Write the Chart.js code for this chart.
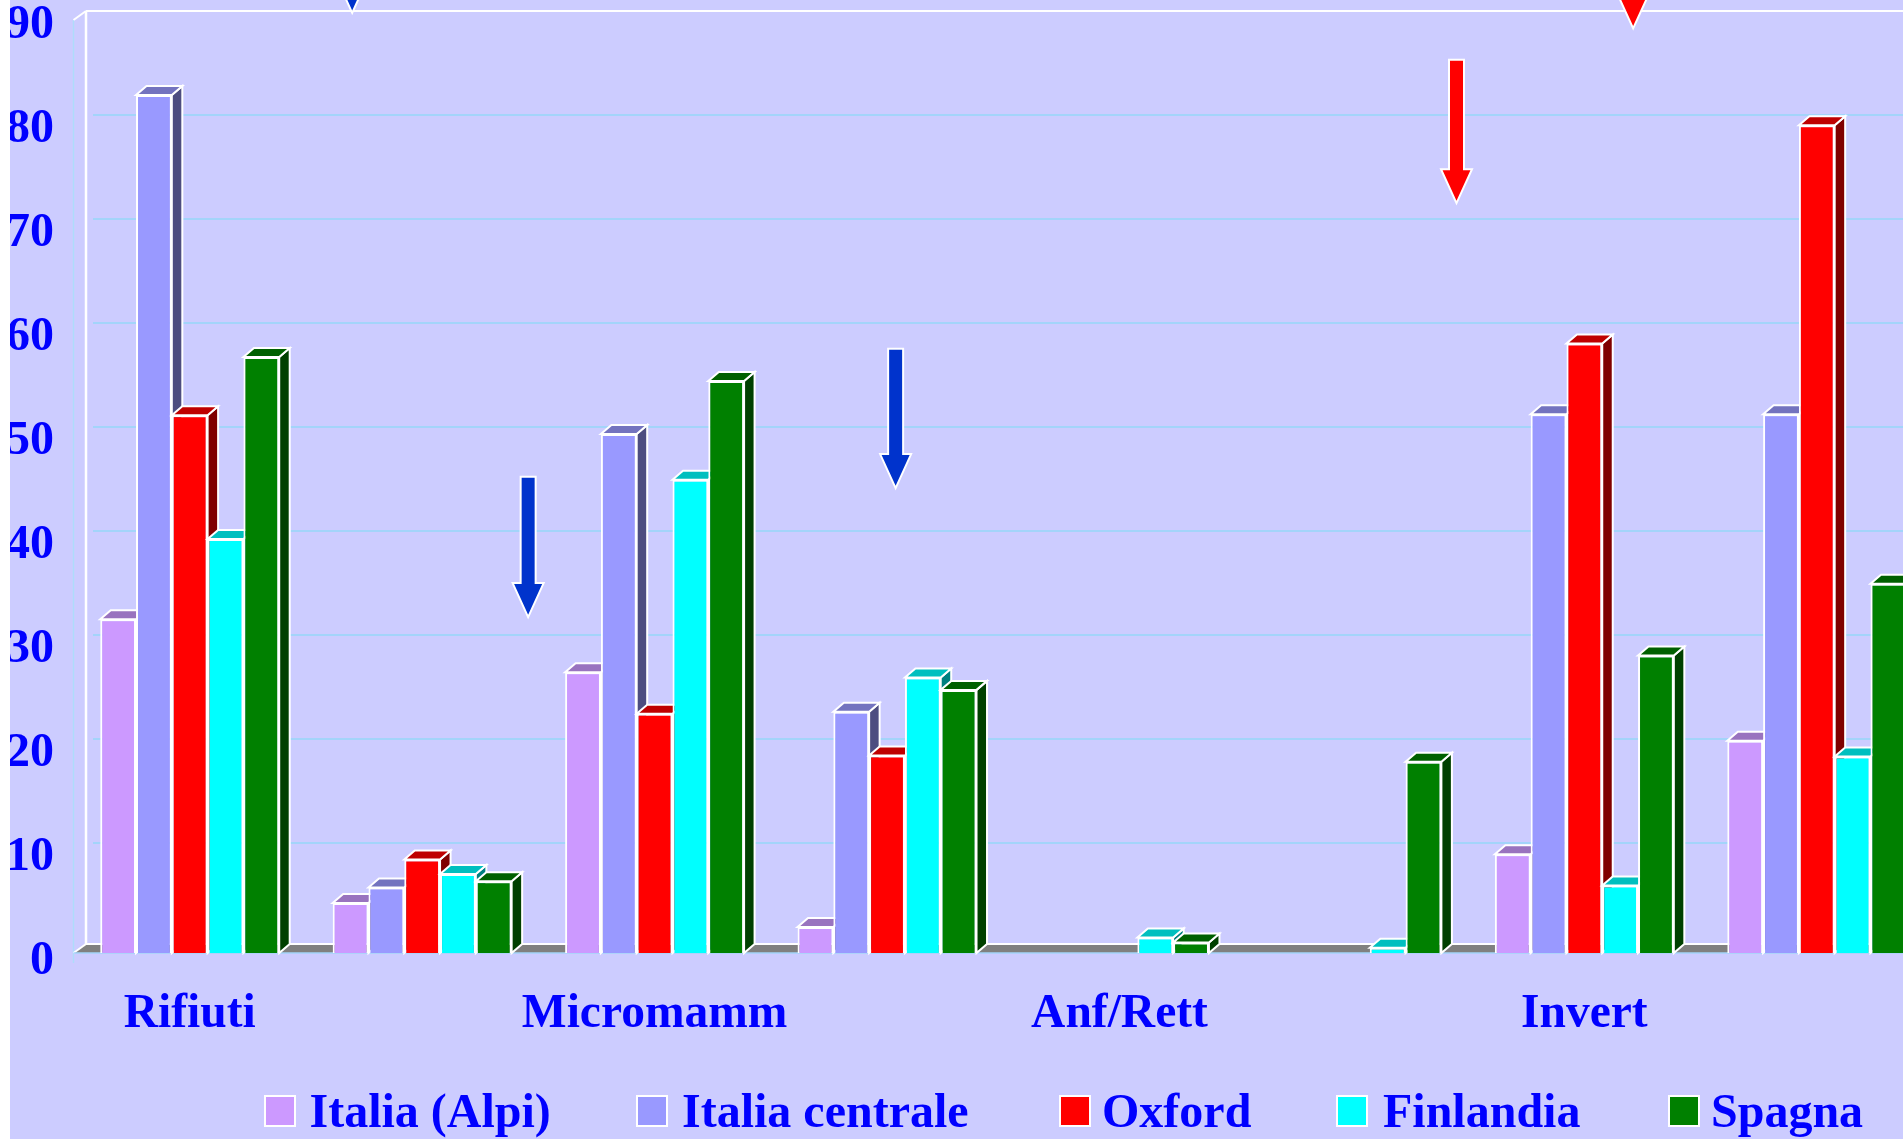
<!DOCTYPE html>
<html>
<head>
<meta charset="utf-8">
<title>Chart</title>
<style>
html,body{margin:0;padding:0;width:100%;height:100%;overflow:hidden;background:#fff}
#wrap{position:absolute;left:10px;top:0;width:1893px;height:1139px;overflow:hidden;background:#CCCCFF}
canvas{display:block}
</style>
<script src="https://cdn.jsdelivr.net/npm/chart.js@4/dist/chart.umd.js"></script>
</head>
<body>
<div id="wrap"><canvas id="c" width="1940" height="1139" style="width:1940px;height:1139px"></canvas></div>
<script>
const categories = ["Rifiuti", "", "Micromamm", "", "Anf/Rett", "", "Invert", ""];
const seriesNames = ["Italia (Alpi)", "Italia centrale", "Oxford", "Finlandia", "Spagna"];
const italiaAlpi = [32.1, 4.8, 27.0, 2.5, null, null, 9.5, 20.4];
const italiaCentrale = [82.5, 6.3, 49.9, 23.2, null, null, 51.8, 51.8];
const oxford = [51.7, 9.0, 23.0, 19.0, null, null, 58.6, 79.6];
const finlandia = [39.8, 7.6, 45.5, 26.5, 1.5, 0.5, 6.5, 18.9];
const spagna = [57.3, 6.9, 55.0, 25.3, 1.0, 18.4, 28.6, 35.5];
const tickValues = [0, 10, 20, 30, 40, 50, 60, 70, 80, 90];

const seriesValues = [italiaAlpi, italiaCentrale, oxford, finlandia, spagna];
const frontColors = ["#CC99FF", "#9999FF", "#FF0000", "#00FFFF", "#008000"];
const topColors = ["#9973BF", "#7373BF", "#BF0000", "#00BFBF", "#006000"];
const sideColors = ["#664D80", "#4D4D80", "#800000", "#008080", "#004000"];

const BLUE = "#0000FF";
const DX = 10.5, DY = 9;

function poly(ctx, pts, fill, stroke, lw) {
  ctx.beginPath();
  pts.forEach((p, i) => i ? ctx.lineTo(p[0], p[1]) : ctx.moveTo(p[0], p[1]));
  ctx.closePath();
  if (fill) { ctx.fillStyle = fill; ctx.fill(); }
  if (stroke) { ctx.strokeStyle = stroke; ctx.lineWidth = lw; ctx.stroke(); }
}
function seg(ctx, x1, y1, x2, y2, color, lw) {
  ctx.beginPath(); ctx.moveTo(x1, y1); ctx.lineTo(x2, y2);
  ctx.strokeStyle = color; ctx.lineWidth = lw; ctx.stroke();
}

const scene3d = {
  id: "scene3d",
  beforeDatasetsDraw(chart) {
    const ctx = chart.ctx, a = chart.chartArea, y = chart.scales.y;
    const W = chart.width + 20;
    const wallX = a.left + 12.5, back = 6;
    ctx.save();
    seg(ctx, a.left, y.getPixelForValue(90) + 3, a.left, a.bottom + 10, "#AEDCFB", 1.5);
    y.ticks.forEach(t => {
      if (t.value > 0 && t.value < 90) {
        const py = y.getPixelForValue(t.value) - back;
        seg(ctx, wallX + 7, py, W, py, "#A3D4FA", 2);
      }
    });
    const topY = y.getPixelForValue(90) - back;
    const floorBack = a.bottom - 9;
    seg(ctx, a.left, topY + 9, wallX, topY, "#FFFFFF", 2);
    seg(ctx, wallX, topY, W, topY, "#FFFFFF", 2);
    seg(ctx, wallX, topY, wallX, floorBack, "#FFFFFF", 2.5);
    poly(ctx, [[a.left, a.bottom], [wallX, floorBack], [W, floorBack], [W, a.bottom]], "#808080");
    seg(ctx, a.left, a.bottom, wallX, floorBack, "#FFFFFF", 2);
    seg(ctx, wallX, floorBack, W, floorBack, "#FFFFFF", 2);
    seg(ctx, a.left, a.bottom, W, a.bottom, "#A3D4FA", 1.5);
    chart.data.datasets.forEach((ds, di) => {
      const meta = chart.getDatasetMeta(di);
      meta.data.forEach((el, i) => {
        if (ds.data[i] == null) return;
        const p = el.getProps(["x", "y", "base", "width"], true);
        const l = p.x - p.width / 2, r = p.x + p.width / 2;
        poly(ctx, [[r, p.y], [r + DX, p.y - DY], [r + DX, p.base - DY], [r, p.base]], sideColors[di], "#FFFFFF", 2);
        poly(ctx, [[l, p.y], [l + DX, p.y - DY], [r + DX, p.y - DY], [r, p.y]], topColors[di], "#FFFFFF", 2);
      });
      meta.controller.draw();
    });
    ctx.restore();
    return false;
  },
  afterDraw(chart) {
    const ctx = chart.ctx, xs = chart.scales.x, ys = chart.scales.y;
    ctx.save();
    const arrows = [
      { c: 1.456, top: 45.8, tip: 32.3, color: "#0033CC" },
      { c: 3.037, top: 58.1, tip: 44.7, color: "#0033CC" },
      { c: 0.699, top: 100, tip: 90.4, color: "#0033CC" },
      { c: 5.45, top: 85.9, tip: 72.1, color: "#FF0000" },
      { c: 6.21, top: 100, tip: 88.9, color: "#FF0000" }
    ];
    arrows.forEach(ar => {
      const cx = xs.getPixelForValue(0) + ar.c * (xs.getPixelForValue(1) - xs.getPixelForValue(0));
      const t = ys.getPixelForValue(ar.top), e = ys.getPixelForValue(ar.tip);
      const h = e - 34;
      poly(ctx, [[cx - 7.5, t], [cx + 7.5, t], [cx + 7.5, h], [cx + 15.5, h], [cx, e], [cx - 15.5, h], [cx - 7.5, h]], ar.color, "#FFFFFF", 2);
    });
    const swatchX = [255, 627, 1050, 1327, 1659];
    const textX = [299.5, 672, 1092, 1373, 1701];
    ctx.font = 'bold 48px "Liberation Serif"';
    ctx.textBaseline = "alphabetic";
    ctx.textAlign = "left";
    seriesNames.forEach((name, i) => {
      const x = swatchX[i];
      ctx.fillStyle = frontColors[i];
      ctx.fillRect(x, 1096, 30, 30);
      ctx.strokeStyle = "#FFFFFF"; ctx.lineWidth = 2;
      ctx.strokeRect(x, 1096, 30, 30);
      ctx.fillStyle = BLUE;
      ctx.fillText(name, textX[i], 1127);
    });
    ctx.restore();
  }
};

new Chart(document.getElementById("c"), {
  type: "bar",
  data: {
    labels: categories,
    datasets: seriesNames.map((name, i) => ({
      label: name,
      data: seriesValues[i],
      backgroundColor: frontColors[i],
      borderColor: "#FFFFFF",
      borderWidth: 2,
      categoryPercentage: 0.77,
      barPercentage: 1
    }))
  },
  options: {
    responsive: false,
    animation: false,
    devicePixelRatio: 1,
    layout: { autoPadding: false, padding: { top: 17, right: 17, left: 0, bottom: 0 } },
    plugins: { legend: { display: false }, title: { display: false }, tooltip: { enabled: false } },
    scales: {
      x: {
        grid: { display: false, drawTicks: false },
        border: { display: false },
        ticks: { autoSkip: false, maxRotation: 0, minRotation: 0, padding: 33, color: BLUE, font: { family: "Liberation Serif", size: 47.5, weight: "bold" } },
        afterFit(s) { s.height = 186; s.paddingLeft = 0; s.paddingRight = 0; }
      },
      y: {
        min: 0, max: 90,
        afterBuildTicks(s) { s.ticks = tickValues.map(v => ({ value: v })); },
        grid: { display: false, drawTicks: false },
        border: { display: false },
        ticks: { padding: 19.5, labelOffset: 9, color: BLUE, font: { family: "Liberation Serif", size: 48, weight: "bold" } },
        afterFit(s) { s.width = 63.5; s.paddingTop = 0; s.paddingBottom = 0; }
      }
    }
  },
  plugins: [scene3d]
});
</script>
</body>
</html>
